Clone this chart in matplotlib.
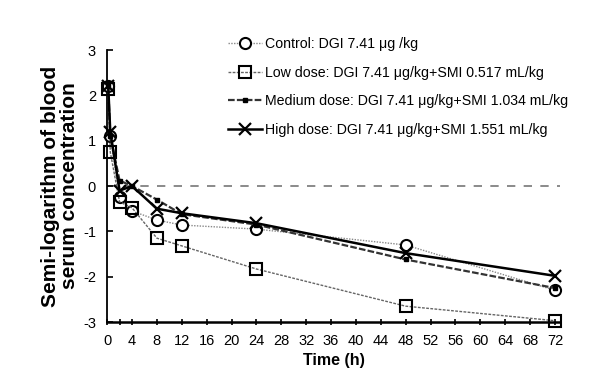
import matplotlib
matplotlib.use('Agg')
import matplotlib.pyplot as plt

plt.rcParams['font.family'] = ['Liberation Sans', 'DejaVu Sans']
plt.rcParams['axes.unicode_minus'] = False

# time points (h) and semi-log serum concentration per group
time_h = [0.17, 0.5, 2, 4, 8, 12, 24, 48, 72]
control = [2.2, 1.1, -0.25, -0.55, -0.75, -0.86, -0.95, -1.3, -2.3]
low_dose = [2.15, 0.75, -0.35, -0.48, -1.15, -1.32, -1.83, -2.65, -2.97]
medium_dose = [2.2, 1.1, 0.12, 0.0, -0.3, -0.62, -0.85, -1.62, -2.25]
high_dose = [2.2, 1.2, -0.1, 0.0, -0.5, -0.6, -0.82, -1.48, -1.98]

labels = ['Control: DGI 7.41 \u03bcg /kg',
          'Low dose: DGI 7.41 \u03bcg/kg+SMI 0.517 mL/kg',
          'Medium dose: DGI 7.41 \u03bcg/kg+SMI 1.034 mL/kg',
          'High dose: DGI 7.41 \u03bcg/kg+SMI 1.551 mL/kg']
x_ticks = list(range(0, 73, 4))
y_ticks = [-3, -2, -1, 0, 1, 2, 3]

fig = plt.figure(figsize=(6.02, 3.88), dpi=100)
ax = fig.add_axes([0.178, 0.170, 0.752, 0.701])

ax.axhline(0, color='#777777', lw=1.2, ls=(0, (5, 5)), zorder=1)

ax.plot(time_h, control, color='#888888', lw=1.0, ls=(0, (1, 1)),
        marker='o', ms=8, mfc='white', mec='black', mew=1.5,
        label=labels[0], clip_on=False, zorder=3)
ax.plot(time_h, low_dose, color='#666666', lw=1.0, ls=(0, (2, 1)),
        marker='s', ms=9, mfc='none', mec='black', mew=1.5,
        label=labels[1], clip_on=False, zorder=3)
ax.plot(time_h, medium_dose, color='#333333', lw=1.6, ls=(0, (3, 1)),
        marker='s', ms=3.5, mfc='black', mec='black',
        label=labels[2], clip_on=False, zorder=4)
ax.plot(time_h, high_dose, color='black', lw=1.8, ls='-',
        marker='x', ms=9, mew=1.6,
        label=labels[3], clip_on=False, zorder=4)

ax.set_xlim(0, 72.8)
ax.set_ylim(-3, 3)
ax.set_xticks(x_ticks)
ax.set_xticks([2], minor=True)
ax.set_yticks(y_ticks)
ax.tick_params(axis='x', direction='inout', length=5, width=1.2, labelsize=10.5, pad=6)
ax.tick_params(axis='x', which='minor', direction='inout', length=5, width=1.2)
ax.tick_params(axis='y', direction='in', length=4, width=1.2, labelsize=10.5, pad=8)

for s in ['top', 'right']:
    ax.spines[s].set_visible(False)
ax.spines['left'].set_linewidth(1.3)
ax.spines['bottom'].set_linewidth(1.8)

ax.set_xlabel('Time (h)', fontsize=11.5, fontweight='bold', labelpad=4)
ax.set_ylabel('Semi-logarithm of blood\nserum concentration', fontsize=15,
              fontweight='bold', labelpad=3, linespacing=1.0)

leg = fig.legend(loc='upper left', bbox_to_anchor=(0.37, 0.92), frameon=False,
                 fontsize=10.2, handlelength=2.4, handletextpad=0.2,
                 labelspacing=1.05, borderaxespad=0)

fig.savefig('out.png', dpi=100)
